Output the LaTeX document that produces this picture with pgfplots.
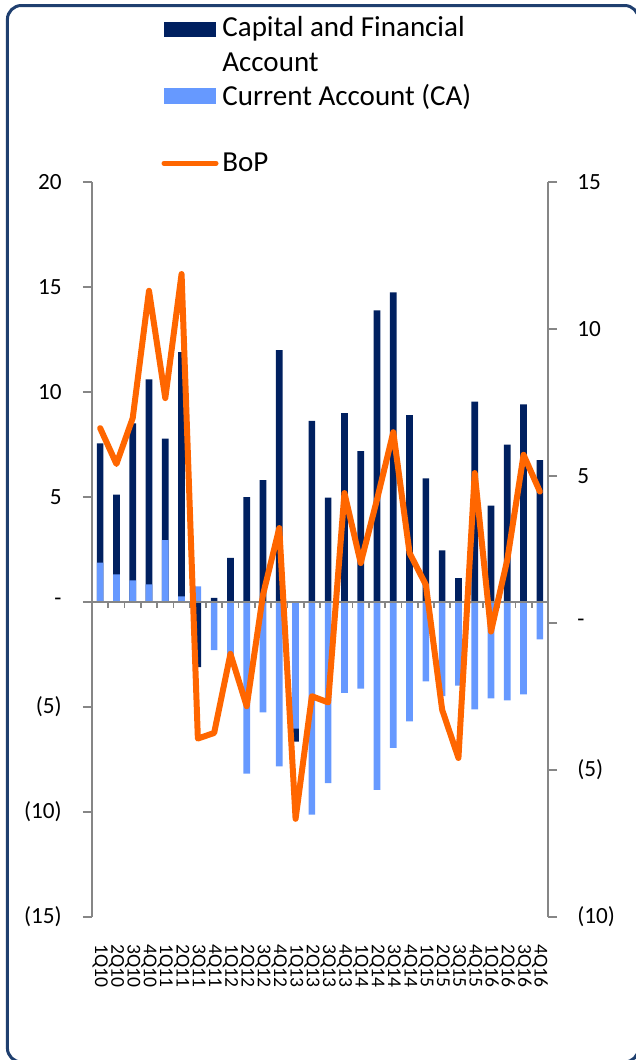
\documentclass[border=0pt]{standalone}
\usepackage{fontspec}
\setmainfont{Carlito}
\usepackage{pgfplots}
\pgfplotsset{compat=1.18}

\definecolor{cfa}{HTML}{002060}
\definecolor{ca}{HTML}{6699FF}
\definecolor{bop}{HTML}{FF6600}
\definecolor{axisgray}{HTML}{868686}
\definecolor{framecol}{HTML}{1F3F6F}

% quarter, capital & financial account, current account, BoP
\pgfplotstableread{
x cfa ca bop
0 7.56 1.87 6.63
1 5.11 1.32 5.41
2 8.51 1.03 6.97
3 10.6 0.84 11.3
4 7.78 2.95 7.65
5 11.9 0.27 11.87
6 -3.1 0.75 -3.93
7 0.2 -2.29 -3.74
8 2.1 -3.0 -1.05
9 5.0 -8.17 -2.83
10 5.81 -5.26 0.96
11 12.0 -7.83 3.23
12 -6.65 -6.03 -6.66
13 8.62 -10.13 -2.49
14 4.97 -8.63 -2.7
15 9.0 -4.33 4.42
16 7.19 -4.13 2.04
17 13.89 -8.94 4.2
18 14.75 -6.95 6.49
19 8.9 -5.68 2.38
20 5.89 -3.78 1.3
21 2.46 -4.48 -2.95
22 1.14 -3.98 -4.59
23 9.54 -5.11 5.1
24 4.59 -4.59 -0.29
25 7.49 -4.68 2.15
26 9.41 -4.4 5.72
27 6.76 -1.78 4.47
}\bopdata

\begin{document}
\begin{tikzpicture}
\useasboundingbox (0,0) rectangle (318pt,-530pt);
\begin{scope}
\clip (0,0) rectangle (318pt,-530pt);
\draw[framecol, line width=1.5pt, rounded corners=7pt] (3.7pt,-2.75pt) rectangle (319.3pt,-531pt);
\end{scope}

\pgfplotsset{every axis/.append style={
  scale only axis, width=228pt, height=367.5pt,
  at={(46pt,-458.5pt)}, anchor=south west,
  xmin=-0.5, xmax=27.5,
  axis line style={axisgray, line width=0.8pt},
  tick style={axisgray, line width=0.8pt},
  tick align=outside, major tick length=4.5pt,
}}

\begin{axis}[
  ymin=-15, ymax=20,
  axis y line*=left, axis x line*=bottom,
  x axis line style={draw=none},
  xtick={0,...,27},
  xticklabels={1Q10,2Q10,3Q10,4Q10,1Q11,2Q11,3Q11,4Q11,1Q12,2Q12,3Q12,4Q12,1Q13,2Q13,3Q13,4Q13,1Q14,2Q14,3Q14,4Q14,1Q15,2Q15,3Q15,4Q15,1Q16,2Q16,3Q16,4Q16},
  x tick style={draw=none},
  x tick label style={rotate=-90, anchor=west, font=\fontsize{9.8}{10}\selectfont, inner sep=0pt},
  xticklabel shift=9pt,
  ytick={-15,-10,...,20},
  yticklabels={(15),(10),(5),-,5,10,15,20},
  y tick label style={font=\fontsize{11.6}{12}\selectfont, anchor=east, inner sep=0pt},
  yticklabel shift=10.5pt,
  ybar, bar width=3.35pt, bar shift=0pt,
]
\addplot[fill=cfa, draw=none] table[x=x, y=cfa] {\bopdata};
\addplot[fill=ca, draw=none] table[x=x, y=ca] {\bopdata};
\draw[axisgray, line width=0.8pt] (axis cs:-0.5,0) -- (axis cs:27.5,0);
\pgfplotsinvokeforeach{0.5,1.5,...,26.5}{
  \draw[axisgray, line width=0.8pt] (axis cs:#1,0) -- (axis cs:#1,-0.27);
}
\end{axis}

\begin{axis}[
  ymin=-10, ymax=15,
  axis y line*=right, axis x line=none,
  ytick={-10,-5,...,15},
  yticklabels={(10),(5),-,5,10,15},
  y tick label style={font=\fontsize{11.6}{12}\selectfont, anchor=west, inner sep=0pt},
  yticklabel shift=10pt,
]
\addplot[bop, line width=3pt, line join=round, line cap=round, mark=none] table[x=x, y=bop] {\bopdata};
\end{axis}

% legend
\begin{scope}[font=\fontsize{14.5}{15}\selectfont]
\fill[cfa] (82pt,-10.85pt) rectangle (108pt,-18.65pt);
\node[anchor=base west, inner sep=0pt] at (111pt,-18.35pt) {Capital and Financial};
\node[anchor=base west, inner sep=0pt] at (111pt,-35.85pt) {Account};
\fill[ca] (82pt,-44.15pt) rectangle (108pt,-52.15pt);
\node[anchor=base west, inner sep=0pt] at (111pt,-52.5pt) {Current Account (CA)};
\draw[bop, line width=2.5pt, line cap=round] (82pt,-81.65pt) -- (108pt,-81.65pt);
\node[anchor=base west, inner sep=0pt] at (111pt,-85.85pt) {BoP};
\end{scope}
\end{tikzpicture}
\end{document}
